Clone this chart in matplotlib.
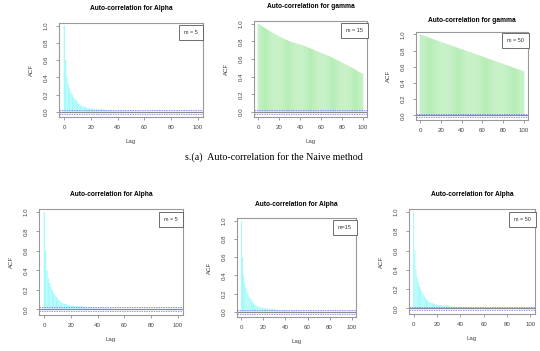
import matplotlib
matplotlib.use("Agg")
import matplotlib.pyplot as plt
import numpy as np

plt.rcParams["font.family"] = ["Liberation Sans", "DejaVu Sans"]

lags = list(range(101))

acf_alpha = [
    1.0, 0.60, 0.40, 0.32, 0.27, 0.23, 0.20, 0.17, 0.15, 0.13, 0.11,
    0.095, 0.08, 0.07, 0.065, 0.06, 0.055, 0.05, 0.045, 0.04, 0.04,
    0.038, 0.036, 0.035, 0.034, 0.033, 0.032, 0.032, 0.033, 0.034, 0.030,
    0.025, 0.022, 0.02, 0.018, 0.017, 0.016, 0.015, 0.015, 0.014, 0.014,
    0.013, 0.013, 0.012, 0.012, 0.012, 0.011, 0.011, 0.010, 0.010, 0.009,
    0.006, 0.005, 0.004, 0.004, 0.003, 0.003, 0.002, 0.002, 0.001, 0.0,
    -0.008, -0.010, -0.012, -0.010, -0.006, -0.002, 0.0, 0.002, 0.003, 0.002,
    0.001, 0.0, 0.002, 0.003, 0.002, 0.001, 0.0, -0.002, -0.001, 0.0,
    0.001, 0.002, 0.001, 0.0, -0.002, -0.003, -0.002, 0.0, 0.001, 0.0,
    -0.002, -0.004, -0.006, -0.008, -0.010, -0.009, -0.008, -0.010, -0.009, -0.008,
]

acf_gamma15 = [
    1.000, 0.992, 0.985, 0.977, 0.970, 0.962, 0.955, 0.947, 0.940, 0.932, 0.925,
    0.918, 0.911, 0.904, 0.897, 0.890, 0.883, 0.876, 0.869, 0.862, 0.855,
    0.849, 0.843, 0.838, 0.832, 0.827, 0.822, 0.817, 0.812, 0.806, 0.800,
    0.796, 0.793, 0.789, 0.786, 0.782, 0.779, 0.775, 0.772, 0.768, 0.765,
    0.761, 0.756, 0.752, 0.747, 0.743, 0.738, 0.734, 0.729, 0.725, 0.720,
    0.715, 0.710, 0.705, 0.700, 0.695, 0.690, 0.685, 0.680, 0.675, 0.670,
    0.665, 0.660, 0.655, 0.650, 0.645, 0.640, 0.635, 0.630, 0.625, 0.620,
    0.614, 0.608, 0.602, 0.596, 0.590, 0.584, 0.578, 0.572, 0.566, 0.560,
    0.554, 0.548, 0.542, 0.536, 0.530, 0.524, 0.518, 0.512, 0.506, 0.500,
    0.493, 0.486, 0.479, 0.472, 0.465, 0.458, 0.451, 0.444, 0.437, 0.430,
]

acf_gamma50 = [
    1.000, 0.995, 0.991, 0.986, 0.982, 0.977, 0.973, 0.968, 0.964, 0.959, 0.955,
    0.950, 0.945, 0.941, 0.936, 0.932, 0.927, 0.923, 0.918, 0.914, 0.909,
    0.905, 0.900, 0.895, 0.891, 0.886, 0.882, 0.877, 0.873, 0.868, 0.864,
    0.859, 0.855, 0.850, 0.845, 0.841, 0.836, 0.832, 0.827, 0.823, 0.818,
    0.814, 0.809, 0.805, 0.800, 0.795, 0.791, 0.786, 0.782, 0.777, 0.773,
    0.768, 0.764, 0.759, 0.755, 0.750, 0.745, 0.741, 0.736, 0.732, 0.727,
    0.723, 0.718, 0.714, 0.709, 0.705, 0.700, 0.695, 0.691, 0.686, 0.682,
    0.677, 0.673, 0.668, 0.664, 0.659, 0.655, 0.650, 0.645, 0.641, 0.636,
    0.632, 0.627, 0.623, 0.618, 0.614, 0.609, 0.605, 0.600, 0.595, 0.591,
    0.586, 0.582, 0.577, 0.573, 0.568, 0.564, 0.559, 0.555, 0.550, 0.545,
]

conf = 0.02

titles = ["Auto-correlation for Alpha", "Auto-correlation for gamma", "Auto-correlation for gamma",
          "Auto-correlation for Alpha", "Auto-correlation for Alpha", "Auto-correlation for Alpha"]
legends = ["m = 5", "m = 15", "m = 50", "m = 5", "m=15", "m = 50"]
series = [acf_alpha, acf_gamma15, acf_gamma50, acf_alpha, acf_alpha, acf_alpha]
caption = "s.(a)  Auto-correlation for the Naive method"

W, H = 540, 351
# axes boxes in pixels: left, right, top, bottom
boxes = [(59, 203, 23, 117), (254, 367, 21, 117), (416, 528, 32, 120),
         (39, 183, 209, 315), (237, 356, 218, 317), (409, 535, 209, 314)]
show_lag = [True, True, False, True, True, True]

fig = plt.figure(figsize=(W / 100, H / 100), dpi=100)

for i, (l, r, t, b) in enumerate(boxes):
    ax = fig.add_axes([l / W, (H - b) / H, (r - l) / W, (b - t) / H])
    vals = series[i]
    col = "#a0fafa" if i in (0, 3, 4, 5) else "#b2ecb2"
    ax.bar(lags, vals, width=0.9, color=col, lw=0, snap=False)
    ax.axhspan(-conf, conf, color="#dcdcff", alpha=0.5, lw=0)
    ax.axhline(0, color="#777777", lw=0.6)
    ax.axhline(conf, color="#6a6aee", lw=0.5, ls=(0, (2, 1.5)))
    ax.axhline(-conf, color="#6a6aee", lw=0.5, ls=(0, (2, 1.5)))
    ax.set_xlim(-4, 104)
    ax.set_ylim(-0.057, 1.03)
    ax.set_xticks([0, 20, 40, 60, 80, 100])
    ax.set_yticks([0.0, 0.2, 0.4, 0.6, 0.8, 1.0])
    ax.set_yticklabels(["0.0", "0.2", "0.4", "0.6", "0.8", "1.0"], rotation=90, va="center")
    ax.tick_params(labelsize=4.4, length=2.5, width=0.5, colors="#777777", labelcolor="#444444", pad=3)
    ax.tick_params(axis="y", pad=5)
    for s in ax.spines.values():
        s.set_color("#999999")
        s.set_linewidth(0.8)
    ax.set_title(titles[i], fontsize=4.8, fontweight="bold", pad=9 if i != 2 else 7)
    ax.set_ylabel("ACF", fontsize=4.4, color="#444444", labelpad=7)
    if show_lag[i]:
        ax.set_xlabel("Lag", fontsize=4.4, color="#444444", labelpad=7)
    ax.text(0.965, 0.9, legends[i], transform=ax.transAxes, ha="right", va="center",
            fontsize=4.0, color="#333333",
            bbox=dict(boxstyle="square,pad=0.9", fc="white", ec="#555555", lw=0.6))

fig.text(274 / W, 1 - 157 / H, caption, ha="center", va="center",
         fontsize=7.2, family="Liberation Serif")

fig.savefig("out.png", dpi=100)
